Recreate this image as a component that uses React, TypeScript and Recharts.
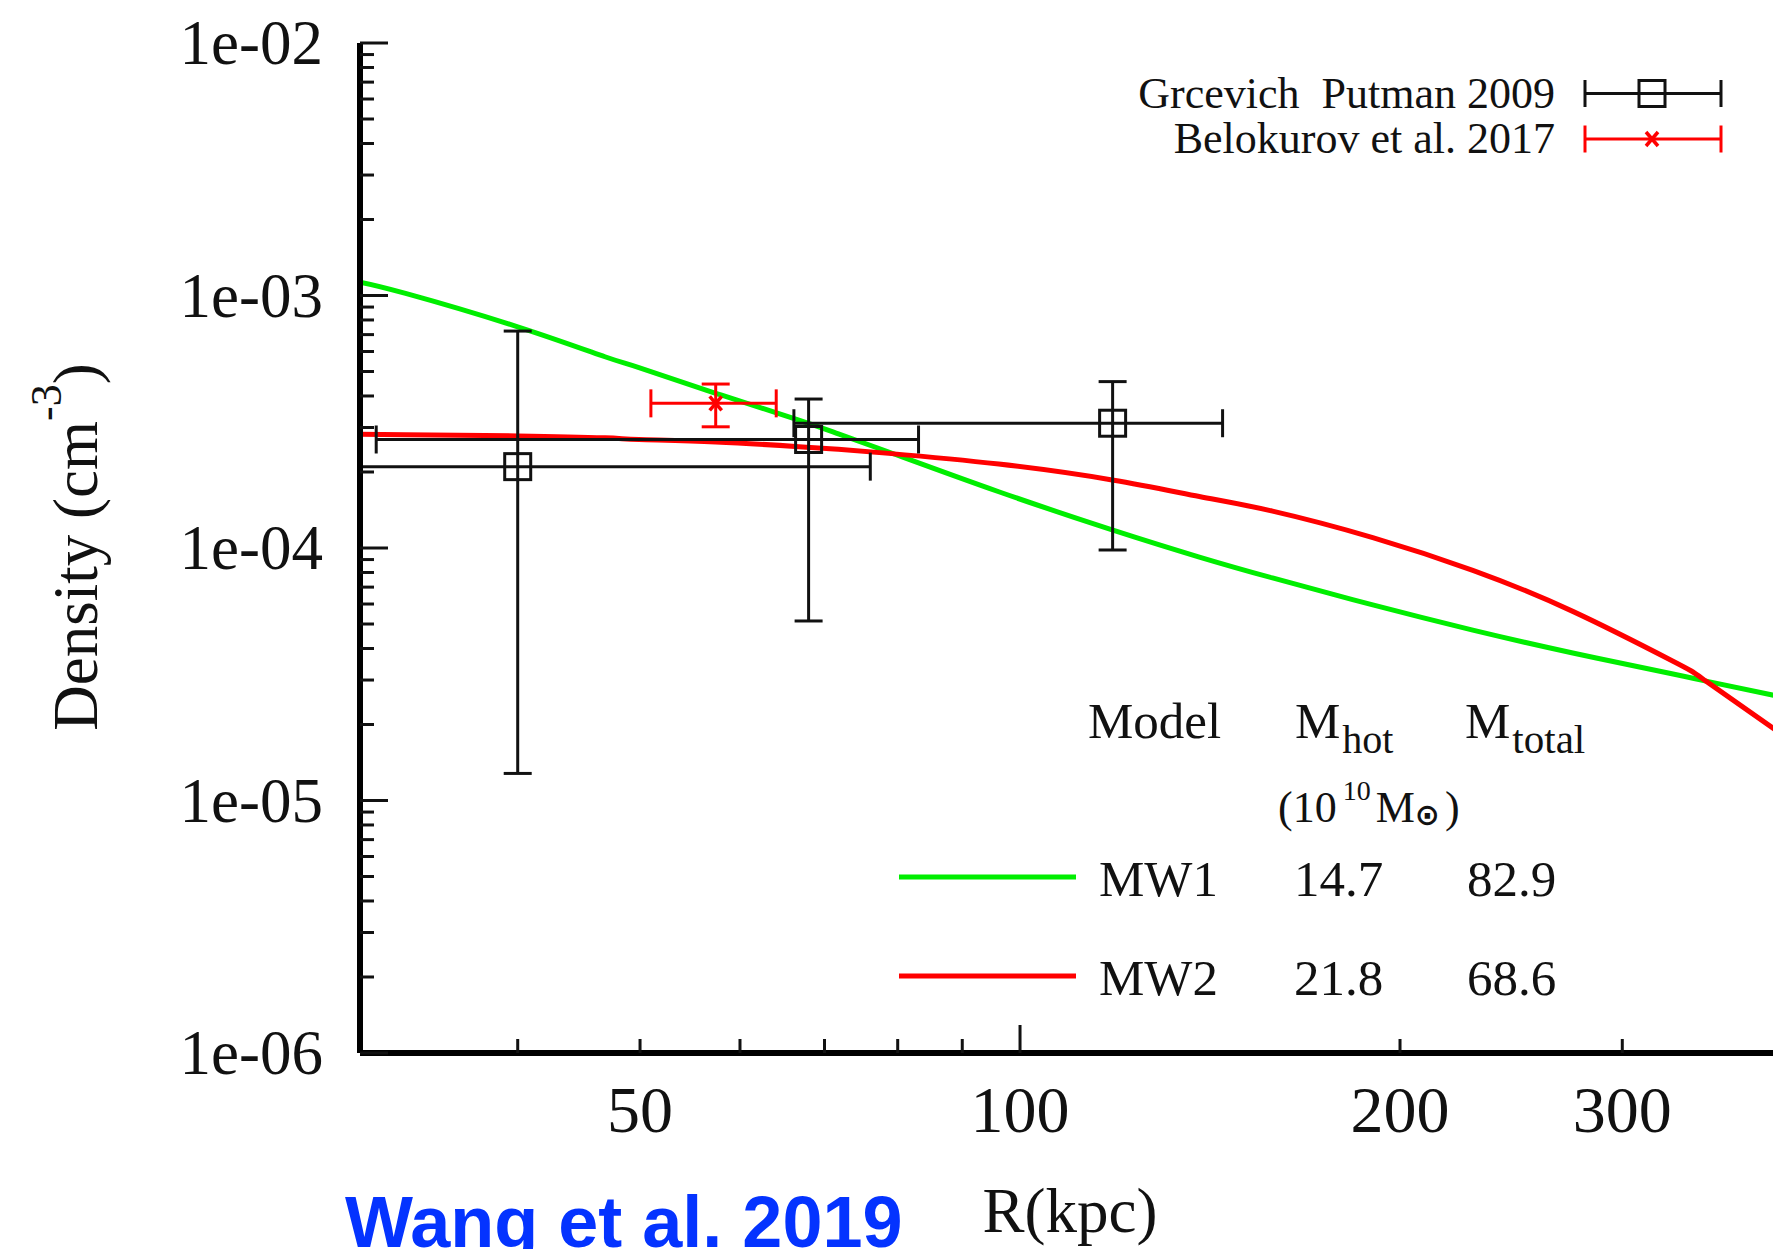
import { ComposedChart, Line, Scatter, XAxis, YAxis, ErrorBar } from "recharts";

const curveRadius = [30, 32.6, 40, 46.9, 49.9, 57.4, 66.8, 71.8, 78.7, 96.2, 118.3, 138.7, 158.5, 190.3, 228.4, 274.1, 329.1, 349.5, 400];
const mw1Density = [1.13e-3, 1.02e-3, 7.52e-4, 5.72e-4, 5.18e-4, 4.1e-4, 3.21e-4, 2.83e-4, 2.4e-4, 1.67e-4, 1.18e-4, 9.21e-5, 7.61e-5, 5.95e-5, 4.73e-5, 3.84e-5, 3.17e-5, 2.97e-5, 2.58e-5];
const mw2Density = [2.82e-4, 2.81e-4, 2.78e-4, 2.73e-4, 2.69e-4, 2.63e-4, 2.52e-4, 2.46e-4, 2.37e-4, 2.15e-4, 1.86e-4, 1.6e-4, 1.4e-4, 1.1e-4, 8.16e-5, 5.61e-5, 3.56e-5, 2.97e-5, 1.85e-5];

// Grcevich & Putman 2009
const gpRadius = [40.0, 68.0, 118.4];
const gpRadiusLow = [30, 30.9, 66.2];
const gpRadiusHigh = [76.1, 83.1, 144.7];
const gpDensity = [2.1e-4, 2.69e-4, 3.12e-4];
const gpDensityLow = [1.28e-5, 5.14e-5, 9.82e-5];
const gpDensityHigh = [7.23e-4, 3.89e-4, 4.56e-4];

// Belokurov et al. 2017
const belRadius = [57.4];
const belRadiusLow = [51.0];
const belRadiusHigh = [64.1];
const belDensity = [3.74e-4];
const belDensityLow = [3.02e-4];
const belDensityHigh = [4.46e-4];

// axis ticks
const xTicks = [40, 50, 60, 70, 80, 90, 100, 200, 300];
const xMajorTicks = [100];
const xTickLabels = [50, 100, 200, 300];
const yMajorTicks = [1e-6, 1e-5, 1e-4, 1e-3, 1e-2];
const yTickLabels = ["1e-06", "1e-05", "1e-04", "1e-03", "1e-02"];
const yMinorSteps = [2, 3, 4, 5, 6, 7, 8, 9];

// model table
const modelNames = ["MW1", "MW2"];
const modelHotMass = ["14.7", "21.8"];
const modelTotalMass = ["82.9", "68.6"];

const SERIF = "'Liberation Serif', 'Times New Roman', serif";
const INK = "#111";
const GREEN = "#00ee00";
const RED = "#ff0000";
const modelColors = [GREEN, RED];

const yTicks = yMajorTicks.flatMap((t, i) =>
  i === yMajorTicks.length - 1 ? [t] : [t, ...yMinorSteps.map((m) => m * t)]
);

const curveData = curveRadius.map((r, i) => ({ r, mw1: mw1Density[i], mw2: mw2Density[i] }));

const toPoints = (
  r: number[], rLo: number[], rHi: number[],
  d: number[], dLo: number[], dHi: number[]
) =>
  r.map((v, i) => ({
    r: v,
    d: d[i],
    ex: [v - rLo[i], rHi[i] - v],
    ey: [d[i] - dLo[i], dHi[i] - d[i]],
  }));

const gpData = toPoints(gpRadius, gpRadiusLow, gpRadiusHigh, gpDensity, gpDensityLow, gpDensityHigh);
const belData = toPoints(belRadius, belRadiusLow, belRadiusHigh, belDensity, belDensityLow, belDensityHigh);

const isDecade = (v: number) => Math.abs(Math.log10(v) - Math.round(Math.log10(v))) < 1e-6;

// markers
const Square = ({ cx, cy }: any) => (
  <rect x={cx - 13} y={cy - 13} width={26} height={26} fill="none" stroke={INK} strokeWidth={3} />
);
const Cross = ({ cx, cy }: any) => (
  <g stroke={RED} strokeWidth={3.5}>
    <line x1={cx - 6} y1={cy - 7} x2={cx + 6} y2={cy + 7} />
    <line x1={cx - 6} y1={cy + 7} x2={cx + 6} y2={cy - 7} />
  </g>
);

// gnuplot style ticks: pointing into the plot, long on decades
const BottomTick = ({ x, y, payload }: any) => {
  const v = payload.value;
  const len = xMajorTicks.includes(v) ? 28 : 14;
  return (
    <g>
      <line x1={x} x2={x} y1={y} y2={y - len} stroke={INK} strokeWidth={3} />
      {xTickLabels.includes(v) && (
        <text x={x} y={y + 79} textAnchor="middle" fontSize={66} fontFamily={SERIF} fill={INK}>
          {v}
        </text>
      )}
    </g>
  );
};
const TopTick = ({ x, y, payload }: any) => {
  const len = xMajorTicks.includes(payload.value) ? 28 : 14;
  return <line x1={x} x2={x} y1={y} y2={y + len} stroke={INK} strokeWidth={3} />;
};
const LeftTick = ({ x, y, payload }: any) => {
  const v = payload.value;
  const major = isDecade(v);
  const idx = yMajorTicks.findIndex((t) => Math.abs(Math.log10(t) - Math.log10(v)) < 1e-6);
  return (
    <g>
      <line x1={x} x2={x + (major ? 28 : 14)} y1={y} y2={y} stroke={INK} strokeWidth={3} />
      {idx >= 0 && (
        <text x={x - 37} y={y} dy="0.34em" textAnchor="end" fontSize={63} fontFamily={SERIF} fill={INK}>
          {yTickLabels[idx]}
        </text>
      )}
    </g>
  );
};
const RightTick = ({ x, y, payload }: any) => {
  const len = isDecade(payload.value) ? 28 : 14;
  return <line x1={x} x2={x - len} y1={y} y2={y} stroke={INK} strokeWidth={3} />;
};

const axisLine = { stroke: "#000", strokeWidth: 6 };

export default function App() {
  return (
    <div
      style={{
        position: "absolute",
        left: 0,
        top: 0,
        width: 1773,
        height: 1249,
        overflow: "hidden",
        background: "#fff",
      }}
    >
      <ComposedChart width={1800} height={1249} margin={{ top: 43, right: 20, left: 0, bottom: 0 }}>
        <Line
          xAxisId="b"
          yAxisId="l"
          data={curveData}
          dataKey="mw1"
          type="natural"
          stroke={GREEN}
          strokeWidth={5}
          dot={false}
          activeDot={false}
          isAnimationActive={false}
        />
        <Line
          xAxisId="b"
          yAxisId="l"
          data={curveData}
          dataKey="mw2"
          type="natural"
          stroke={RED}
          strokeWidth={5}
          dot={false}
          activeDot={false}
          isAnimationActive={false}
        />

        <Scatter
          xAxisId="b"
          yAxisId="l"
          data={gpData}
          dataKey="d"
          shape={<Square />}
          isAnimationActive={false}
        >
          <ErrorBar dataKey="ex" direction="x" width={14} stroke={INK} strokeWidth={3} isAnimationActive={false} />
          <ErrorBar dataKey="ey" direction="y" width={14} stroke={INK} strokeWidth={3} isAnimationActive={false} />
        </Scatter>
        <Scatter
          xAxisId="b"
          yAxisId="l"
          data={belData}
          dataKey="d"
          shape={<Cross />}
          isAnimationActive={false}
        >
          <ErrorBar dataKey="ex" direction="x" width={14} stroke={RED} strokeWidth={3} isAnimationActive={false} />
          <ErrorBar dataKey="ey" direction="y" width={14} stroke={RED} strokeWidth={3} isAnimationActive={false} />
        </Scatter>

        <XAxis
          xAxisId="b"
          type="number"
          dataKey="r"
          scale="log"
          domain={[30, 400]}
          allowDataOverflow
          ticks={xTicks}
          interval={0}
          height={196}
          tickSize={0}
          tickMargin={0}
          tickLine={false}
          axisLine={axisLine}
          tick={<BottomTick />}
        />
        <XAxis
          xAxisId="t"
          orientation="top"
          type="number"
          dataKey="r"
          scale="log"
          domain={[30, 400]}
          allowDataOverflow
          ticks={xTicks}
          interval={0}
          height={0}
          tickSize={0}
          tickMargin={0}
          tickLine={false}
          axisLine={axisLine}
          tick={<TopTick />}
        />
        <YAxis
          yAxisId="l"
          type="number"
          scale="log"
          domain={[1e-6, 1e-2]}
          allowDataOverflow
          ticks={yTicks}
          interval={0}
          width={360}
          tickSize={0}
          tickMargin={0}
          tickLine={false}
          axisLine={axisLine}
          tick={<LeftTick />}
        />
        <YAxis
          yAxisId="r"
          orientation="right"
          type="number"
          scale="log"
          domain={[1e-6, 1e-2]}
          allowDataOverflow
          ticks={yTicks}
          interval={0}
          width={0}
          tickSize={0}
          tickMargin={0}
          tickLine={false}
          axisLine={axisLine}
          tick={<RightTick />}
        />
      </ComposedChart>

      <svg
        width={1773}
        height={1249}
        style={{ position: "absolute", left: 0, top: 0, pointerEvents: "none" }}
        fontFamily={SERIF}
        fill={INK}
      >
        {/* axis titles */}
        <text transform="translate(97, 547) rotate(-90)" textAnchor="middle" fontSize={63}>
          Density (cm
          <tspan dy={-36} fontSize={44}>-3</tspan>
          <tspan dy={36}>)</tspan>
        </text>
        <text x={1070} y={1232} textAnchor="middle" fontSize={63}>
          R(kpc)
        </text>

        {/* data legend */}
        <text x={1555} y={108} textAnchor="end" fontSize={44} style={{ whiteSpace: "pre" }}>
          {"Grcevich  Putman 2009"}
        </text>
        <text x={1555} y={153} textAnchor="end" fontSize={44}>
          Belokurov et al. 2017
        </text>
        <g stroke={INK} strokeWidth={3}>
          <line x1={1585} x2={1721} y1={93.5} y2={93.5} />
          <line x1={1585} x2={1585} y1={80} y2={107} />
          <line x1={1721} x2={1721} y1={80} y2={107} />
        </g>
        <Square cx={1652} cy={93.5} />
        <g stroke={RED} strokeWidth={3}>
          <line x1={1585} x2={1721} y1={139} y2={139} />
          <line x1={1585} x2={1585} y1={125.5} y2={152.5} />
          <line x1={1721} x2={1721} y1={125.5} y2={152.5} />
        </g>
        <Cross cx={1652} cy={139} />

        {/* model table */}
        <text x={1088} y={738} fontSize={51}>Model</text>
        <text x={1295} y={738} fontSize={51}>
          M<tspan dx={2} dy={15} fontSize={40}>hot</tspan>
        </text>
        <text x={1465} y={738} fontSize={51}>
          M<tspan dx={2} dy={15} fontSize={41}>total</tspan>
        </text>
        <text x={1278} y={822} fontSize={44}>
          (10
          <tspan dx={6} dy={-22} fontSize={28}>10</tspan>
          <tspan dx={5} dy={22}>M</tspan>
          <tspan dx={0} dy={3} fontSize={30} fontFamily="'DejaVu Sans', sans-serif" fontWeight="bold">⊙</tspan>
          <tspan dx={5} dy={-3}>)</tspan>
        </text>
        {modelNames.map((name, i) => {
          const base = 896 + i * 99;
          return (
            <g key={name}>
              <line x1={899} x2={1076} y1={base - 19} y2={base - 19} stroke={modelColors[i]} strokeWidth={5} />
              <text x={1099} y={base} fontSize={51}>{name}</text>
              <text x={1294} y={base} fontSize={51}>{modelHotMass[i]}</text>
              <text x={1467} y={base} fontSize={51}>{modelTotalMass[i]}</text>
            </g>
          );
        })}

        {/* slide caption */}
        <text
          x={345}
          y={1247}
          fontSize={72}
          fontWeight="bold"
          fontFamily="'Liberation Sans', Arial, sans-serif"
          fill="#0433ff"
        >
          Wang et al. 2019
        </text>
      </svg>
    </div>
  );
}
